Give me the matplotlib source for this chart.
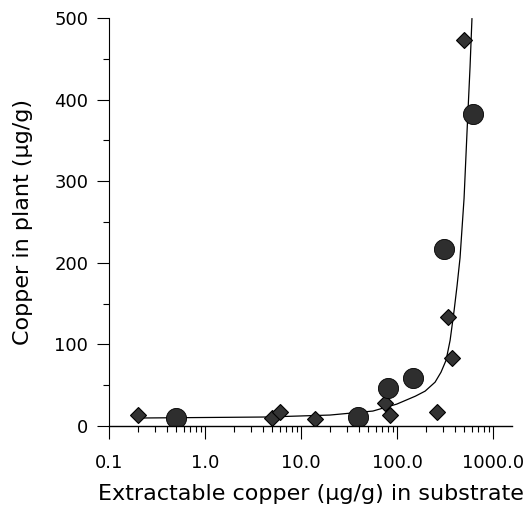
import numpy as np
import matplotlib
matplotlib.use('Agg')
import matplotlib.pyplot as plt
import matplotlib.ticker as mtick

plt.rcParams['font.family'] = ['DejaVu Sans']

# Diamonds (single samples)
diamond_x = [0.2, 5.0, 6.0, 14.0, 39.0, 75.0, 85.0, 261.0, 340.0, 375.0, 500.0]
diamond_y = [13, 10, 17, 8.5, 6, 28, 13, 17, 134, 83, 473]

# Circles
circle_x = [0.5, 39.0, 80.0, 148.0, 310.0, 617.0]
circle_y = [10, 11, 46, 58.5, 217, 382]

# Fitted curve
curve_x = [0.226, 4.43, 20.0, 56.0, 99.3, 155, 196, 249, 287, 324, 357, 393, 422, 453, 499, 536, 576, 603]
curve_y = [9.8, 11.0, 13.4, 18.3, 26.8, 36.5, 42.7, 53.7, 65.9, 80.5, 104.9, 141.5, 172, 206, 279, 361, 440, 499]

fig = plt.figure(figsize=(5.27, 5.12), dpi=100)
ax = fig.add_axes([0.207, 0.168, 0.765, 0.797])

ax.plot(curve_x, curve_y, color='black', lw=0.9)
ax.plot(diamond_x, diamond_y, 'D', ms=8.5, mfc='#333333', mec='black', mew=0.8)
ax.plot(circle_x, circle_y, 'o', ms=14.5, mfc='#2e2e2e', mec='black', mew=0.6)

ax.set_xscale('log')
ax.set_xlim(0.1, 1585)
ax.set_ylim(0, 500)

ax.xaxis.set_major_locator(mtick.FixedLocator([0.1, 1, 10, 100, 1000]))
ax.xaxis.set_major_formatter(mtick.FixedFormatter(['0.1', '1.0', '10.0', '100.0', '1000.0']))
ax.xaxis.set_minor_locator(mtick.LogLocator(base=10, subs=np.arange(2, 10)))
ax.xaxis.set_minor_formatter(mtick.NullFormatter())
ax.yaxis.set_major_locator(mtick.MultipleLocator(100))
ax.yaxis.set_minor_locator(mtick.MultipleLocator(50))

for s in ['top', 'right']:
    ax.spines[s].set_visible(False)
ax.spines['left'].set_linewidth(0.8)
ax.spines['bottom'].set_linewidth(1.0)

ax.tick_params(axis='both', which='major', direction='out', length=9, width=0.8, labelsize=13)
ax.tick_params(axis='both', which='minor', direction='out', length=4.5, width=0.8)
ax.tick_params(axis='x', which='major', pad=11)
ax.tick_params(axis='y', which='major', pad=6)

ax.set_xlabel('Extractable copper (µg/g) in substrate', fontsize=16, labelpad=9)
ax.set_ylabel('Copper in plant (µg/g)', fontsize=16, labelpad=15)

plt.savefig('out.png', dpi=100)
